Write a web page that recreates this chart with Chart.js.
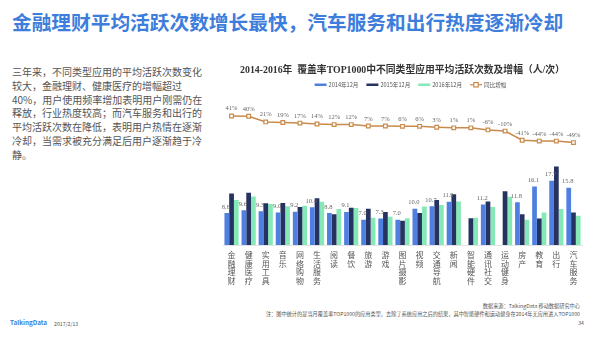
<!DOCTYPE html>
<html>
<head>
<meta charset="utf-8">
<script src="https://cdn.jsdelivr.net/npm/chart.js@4.4.1/dist/chart.umd.min.js"></script>
<style>
  html, body { margin: 0; padding: 0; background: #fff; }
  body { width: 594px; height: 337px; position: relative; overflow: hidden; font-family: 'Noto Sans CJK SC', 'Noto Sans', sans-serif; }
  #headline { position: absolute; left: 12px; top: 7px; font-size: 19.7px; font-weight: bold; color: #3d7ddb; white-space: nowrap; }
  #intro { position: absolute; left: 12px; top: 65px; width: 200px; font-size: 10px; line-height: 13.8px; color: #555; }
  #wrap { position: absolute; left: 210px; top: 60px; width: 384px; height: 240px; }
  .foot { position: absolute; font-size: 5.2px; color: #555; white-space: nowrap; }
  #logo { position: absolute; left: 10px; top: 318px; font-size: 6.3px; font-weight: bold; color: #3d7ddb; }
</style>
</head>
<body>
<div id="headline">金融理财平均活跃次数增长最快，汽车服务和出行热度逐渐冷却</div>
<div id="intro">三年来，不同类型应用的平均活跃次数变化<br>较大，金融理财、健康医疗的增幅超过<br>40%，用户使用频率增加表明用户刚需仍在<br>释放，行业热度较高；而汽车服务和出行的<br>平均活跃次数在降低，表明用户热情在逐渐<br>冷却，当需求被充分满足后用户逐渐趋于冷<br>静。</div>
<div id="wrap"><canvas id="chart"></canvas></div>
<div class="foot" style="right:14px; top:302px;">数据来源：TalkingData 移动数据研究中心</div>
<div class="foot" style="right:14px; top:310px;">注：图中统计的是当月覆盖率TOP1000的应用类型，去除了系统应用之后的结果，其中智能硬件和运动健身在2014年无应用进入TOP1000</div>
<div class="foot" style="right:10px; top:319px;">34</div>
<div id="logo">TalkingData</div>
<div class="foot" style="left:54px; top:320px;">2017/2/13</div>
<script>
const categories = ['金融理财', '健康医疗', '实用工具', '音乐', '网络购物', '生活服务', '阅读', '餐饮', '旅游', '游戏', '图片摄影',
  '视频', '交通导航', '新闻', '智能硬件', '通讯社交', '运动健身', '房产', '教育', '出行', '汽车服务'];
const v2014 = [8.8, 9.6, 9.3, 9.0, 9.2, 10.4, 8.8, 9.1, 7.0, 7.3, 7.0, 10.0, 10.7, 11.9, null, 11.2, null, 11.8, 16.1, 17.7, 15.8];
const v2015 = [14.2, 14.4, 11.5, 11.6, 10.5, 12.9, 8.5, 10.3, 10.0, 9.1, 6.7, 8.8, 12.4, 14.0, 7.4, 12.0, 14.8, 8.5, 7.3, 21.6, 9.0];
const v2016 = [12.4, 13.4, 11.3, 10.7, 10.8, 11.9, 9.9, 10.2, 7.5, 7.8, 7.4, 10.6, 11.0, 12.0, 7.5, 10.5, 13.3, 7.0, 9.0, 9.9, 8.1];
const growth = [41, 40, 21, 19, 17, 14, 12, 12, 7, 7, 6, 6, 3, 1, 1, -6, -10, -41, -44, -44, -49];

const C14 = '#4f80e1', C15 = '#26325f', C16 = '#84e9b6', CLINE = '#c98a4b';

// 2014 bar values + growth % written over the marks
const valueLabels = {
  id: 'valueLabels',
  afterDatasetsDraw(chart) {
    const c = chart.ctx;
    c.save();
    c.textAlign = 'center'; c.textBaseline = 'bottom';
    c.font = '6.5px "Liberation Serif", serif';
    c.fillStyle = '#666';
    chart.getDatasetMeta(1).data.forEach((el, i) => {
      if (v2014[i] == null) return;
      c.fillText(v2014[i].toFixed(1), el.x - 1, el.y - 3);
    });
    chart.getDatasetMeta(0).data.forEach((el, i) => {
      c.fillText(growth[i] + '%', el.x, el.y - 4);
    });
    c.restore();
  },
};

// legend row under the title: line swatches for bars, -□- for growth
const topLegend = {
  id: 'topLegend',
  afterDraw(chart) {
    const c = chart.ctx;
    const items = [
      { t: '2014年12月', col: C14, kind: 'bar' },
      { t: '2015年12月', col: C15, kind: 'bar' },
      { t: '2016年12月', col: C16, kind: 'bar' },
      { t: '同比增幅', col: CLINE, kind: 'line' },
    ];
    c.save();
    c.font = '5.6px "Noto Sans CJK SC", sans-serif';
    c.textBaseline = 'middle';
    const sw = 12, gap = 2, sep = 8;
    const total = items.reduce((s, it) => s + sw + gap + c.measureText(it.t).width, 0) + sep * (items.length - 1);
    let x = (chart.chartArea.left + chart.chartArea.right) / 2 - total / 2 + 8;
    const y = chart.chartArea.top - 15;
    items.forEach(it => {
      c.strokeStyle = it.col;
      if (it.kind === 'bar') {
        c.lineWidth = 2.5;
        c.beginPath(); c.moveTo(x, y); c.lineTo(x + sw, y); c.stroke();
      } else {
        c.lineWidth = 1.2;
        c.beginPath(); c.moveTo(x, y); c.lineTo(x + sw, y); c.stroke();
        c.fillStyle = '#fff';
        c.fillRect(x + sw / 2 - 2.2, y - 2.2, 4.4, 4.4);
        c.strokeRect(x + sw / 2 - 2.2, y - 2.2, 4.4, 4.4);
      }
      c.fillStyle = '#555';
      c.fillText(it.t, x + sw + gap, y);
      x += sw + gap + c.measureText(it.t).width + sep;
    });
    c.restore();
  },
};

new Chart(document.getElementById('chart'), {
  data: {
    labels: categories.map(s => s.split('')),
    datasets: [
      { type: 'line', label: '同比增幅', data: growth, yAxisID: 'y2', borderColor: CLINE, borderWidth: 1.5,
        pointStyle: 'rect', pointRadius: 2.6, pointBackgroundColor: '#fff', pointBorderColor: CLINE, pointBorderWidth: 1.2, tension: 0 },
      { type: 'bar', label: '2014年12月', data: v2014, backgroundColor: C14, yAxisID: 'y' },
      { type: 'bar', label: '2015年12月', data: v2015, backgroundColor: C15, yAxisID: 'y' },
      { type: 'bar', label: '2016年12月', data: v2016, backgroundColor: C16, yAxisID: 'y' },
    ],
  },
  options: {
    responsive: true, maintainAspectRatio: false, animation: false,
    datasets: { bar: { barPercentage: 1.0, categoryPercentage: 0.83 } },
    layout: { padding: { left: 13, right: 12, bottom: 9 } },
    plugins: {
      legend: { display: false },
      tooltip: { enabled: false },
      title: {
        display: true,
        text: '2014-2016年  覆盖率TOP1000中不同类型应用平均活跃次数及增幅（人/次）',
        color: '#333', font: { size: 9.8, weight: 'bold', family: '"Liberation Serif", "Noto Sans CJK SC", serif' },
        padding: { top: 5, bottom: 23 },
      },
    },
    scales: {
      x: {
        grid: { display: false, drawTicks: false },
        border: { color: '#e3e3e3' },
        ticks: { color: '#555', padding: 6, maxRotation: 0, autoSkip: false,
          font: { size: 8, lineHeight: 1.06, family: '"Noto Sans CJK SC", sans-serif' } },
      },
      y: { display: false, min: 0, max: 40 },
      y2: { display: false, min: -396, max: 96 },
    },
  },
  plugins: [valueLabels, topLegend],
});
</script>
</body>
</html>
